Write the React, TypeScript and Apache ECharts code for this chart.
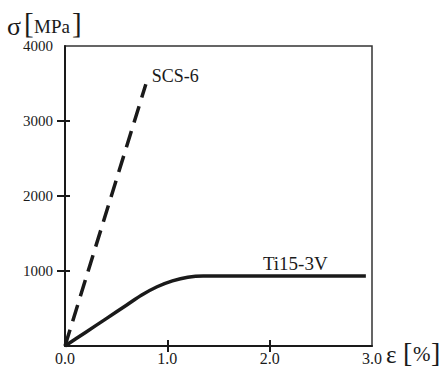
import React, { useEffect, useRef } from "react";
import * as echarts from "echarts";

const xLabelValues = [0, 1, 2, 3];
const xTickValues = [1, 2];
const yLabelValues = [1000, 2000, 3000, 4000];
const yTickValues = [1000, 2000, 3000];

const scs6Strain = [0, 0.79];
const scs6Stress = [0, 3490];

const tiStrain = [0, 0.2, 0.4, 0.6, 0.75, 0.9, 1.05, 1.2, 1.35, 2.94];
const tiStress = [0, 181, 362, 543, 680, 790, 868, 918, 935, 935];

const tiLabelAt = [2.25, 935];

const FONT = "Liberation Serif";
const INK = "#1a1a1a";

export default function App() {
  const ref = useRef<HTMLDivElement>(null);
  useEffect(() => {
    if (!ref.current) return;
    const chart = echarts.init(ref.current, undefined, { renderer: "svg" });
    const axisBase = {
      type: "value" as const,
      splitLine: { show: false },
    };
    chart.setOption({
      animation: false,
      backgroundColor: "#fff",
      textStyle: { fontFamily: FONT },
      grid: {
        left: 65,
        right: 69,
        top: 46,
        bottom: 21,
        show: true,
        borderColor: "#333",
        borderWidth: 1.5,
        backgroundColor: "transparent",
      },
      xAxis: [
        {
          ...axisBase,
          min: 0,
          max: 3,
          interval: 1,
          position: "bottom",
          axisLine: { show: true, lineStyle: { color: INK, width: 2 } },
          axisTick: {
            show: true,
            customValues: xTickValues,
            length: 6,
            lineStyle: { color: INK, width: 2 },
          },
          axisLabel: {
            customValues: xLabelValues,
            showMinLabel: true,
            showMaxLabel: true,
            formatter: (v: number) => v.toFixed(1),
            fontFamily: FONT,
            fontSize: 16,
            color: INK,
            margin: 4,
          },
        },
        {
          ...axisBase,
          min: 0,
          max: 3,
          interval: 1,
          position: "bottom",
          axisLine: { show: false },
          axisTick: {
            show: true,
            inside: true,
            customValues: xTickValues,
            length: 6,
            lineStyle: { color: INK, width: 2 },
          },
          axisLabel: { show: false },
        },
      ],
      yAxis: [
        {
          ...axisBase,
          min: 0,
          max: 4000,
          interval: 1000,
          position: "left",
          axisLine: { show: true, lineStyle: { color: INK, width: 2 } },
          axisTick: {
            show: true,
            customValues: yTickValues,
            length: 8,
            lineStyle: { color: INK, width: 2 },
          },
          axisLabel: {
            customValues: yLabelValues,
            showMaxLabel: true,
            formatter: (v: number) => String(v),
            fontFamily: FONT,
            fontSize: 15,
            color: INK,
            margin: 12,
          },
        },
        {
          ...axisBase,
          min: 0,
          max: 4000,
          interval: 1000,
          position: "left",
          axisLine: { show: false },
          axisTick: {
            show: true,
            inside: true,
            customValues: yTickValues,
            length: 5,
            lineStyle: { color: INK, width: 2 },
          },
          axisLabel: { show: false },
        },
      ],
      series: [
        {
          name: "SCS-6",
          type: "line",
          xAxisIndex: 0,
          yAxisIndex: 0,
          data: scs6Strain.map((x, i) => [x, scs6Stress[i]]),
          symbol: "none",
          lineStyle: { color: INK, width: 3.5, type: [17, 9] },
          endLabel: {
            show: true,
            formatter: "SCS-6",
            fontFamily: FONT,
            fontSize: 18,
            color: INK,
            offset: [-2, -8],
          },
        },
        {
          name: "Ti15-3V",
          type: "line",
          xAxisIndex: 0,
          yAxisIndex: 0,
          data: tiStrain.map((x, i) => [x, tiStress[i]]),
          symbol: "none",
          smooth: 0.3,
          lineStyle: { color: INK, width: 3.5 },
          markPoint: {
            symbol: "circle",
            symbolSize: 0,
            data: [{ coord: tiLabelAt }],
            label: {
              show: true,
              position: "top",
              distance: 3,
              formatter: "Ti15-3V",
              fontFamily: FONT,
              fontSize: 19,
              color: INK,
            },
          },
        },
      ],
      graphic: [
        { type: "text", x: 7, y: 26, style: { text: "σ", font: `26px ${FONT}`, fill: INK, align: "left", verticalAlign: "middle" } },
        { type: "text", x: 24, y: 23, style: { text: "[", font: `29px ${FONT}`, fill: INK, align: "left", verticalAlign: "middle" } },
        { type: "text", x: 34, y: 26, style: { text: "MPa", font: `19px ${FONT}`, fill: INK, align: "left", verticalAlign: "middle" } },
        { type: "text", x: 72, y: 23, style: { text: "]", font: `29px ${FONT}`, fill: INK, align: "left", verticalAlign: "middle" } },
        { type: "text", x: 386, y: 354, style: { text: "ε", font: `25px ${FONT}`, fill: INK, align: "left", verticalAlign: "middle" } },
        { type: "text", x: 403, y: 352, style: { text: "[", font: `28px ${FONT}`, fill: INK, align: "left", verticalAlign: "middle" } },
        { type: "text", x: 413, y: 354, style: { text: "%", font: `21px ${FONT}`, fill: INK, align: "left", verticalAlign: "middle" } },
        { type: "text", x: 431, y: 352, style: { text: "]", font: `28px ${FONT}`, fill: INK, align: "left", verticalAlign: "middle" } },
      ],
    });
    return () => chart.dispose();
  }, []);
  return (
    <div
      ref={ref}
      style={{ position: "fixed", left: 0, top: 0, width: 441, height: 367 }}
    />
  );
}
